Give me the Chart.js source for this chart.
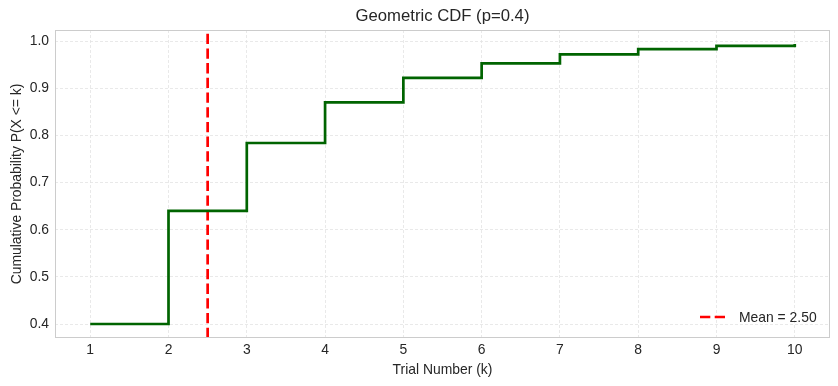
<!DOCTYPE html>
<html>
<head>
<meta charset="utf-8">
<script src="https://cdn.jsdelivr.net/npm/chart.js@4/dist/chart.umd.min.js"></script>
<style>
  html, body { margin: 0; padding: 0; background: #fff; }
  #wrap { width: 838px; height: 386px; }
</style>
</head>
<body>
<div id="wrap"><canvas id="cdfChart" width="838" height="386"></canvas></div>
<script>
// datos
const trials = [1, 2, 3, 4, 5, 6, 7, 8, 9, 10];
const cdfValues = [0.4, 0.64, 0.784, 0.870, 0.922, 0.953, 0.972, 0.983, 0.990, 0.994];
const meanValue = 2.5;
const xTicks = [1, 2, 3, 4, 5, 6, 7, 8, 9, 10];
const yTicks = [0.4, 0.5, 0.6, 0.7, 0.8, 0.9, 1.0];
const xMin = 0.55, xMax = 10.45;
const yMin = 0.3703, yMax = 1.0237;
const chartTitle = 'Geometric CDF (p=0.4)';

const FONT = '"Liberation Sans", Arial, sans-serif';
const TEXT = '#262626';

// titulo centrado sobre el area, marco y leyenda dentro del grafico
const framePlugin = {
    id: 'frame',
    afterDraw(chart) {
        const { ctx, chartArea: a } = chart;
        ctx.save();
        ctx.fillStyle = TEXT;
        ctx.font = '16.7px ' + FONT;
        ctx.textAlign = 'center';
        ctx.textBaseline = 'middle';
        ctx.fillText(chartTitle, (a.left + a.right) / 2, 16);

        ctx.strokeStyle = '#cccccc';
        ctx.lineWidth = 1;
        ctx.strokeRect(a.left + 0.5, a.top + 0.5, a.right - a.left - 1, a.bottom - a.top - 1);

        // leyenda abajo a la derecha
        const ds = chart.data.datasets[1];
        const y = a.bottom - 21;
        const x0 = a.right - 130;
        ctx.strokeStyle = ds.borderColor;
        ctx.lineWidth = ds.borderWidth;
        ctx.setLineDash(ds.borderDash);
        ctx.beginPath();
        ctx.moveTo(x0, y);
        ctx.lineTo(x0 + 25.5, y);
        ctx.stroke();
        ctx.setLineDash([]);
        ctx.textAlign = 'left';
        ctx.font = '13.9px ' + FONT;
        ctx.fillText(ds.label, x0 + 39, y + 1);
        ctx.restore();
    }
};

new Chart(document.getElementById('cdfChart'), {
    type: 'line',
    data: {
        datasets: [
            {
                label: 'CDF',
                data: trials.map((k, i) => ({ x: k, y: cdfValues[i] })),
                borderColor: '#006400',
                borderWidth: 2.7,
                stepped: 'before',
                pointRadius: 0,
                fill: false
            },
            {
                label: 'Mean = ' + meanValue.toFixed(2),
                data: [{ x: meanValue, y: yMin }, { x: meanValue, y: yMax }],
                borderColor: '#ff0000',
                borderWidth: 2.7,
                borderDash: [10.3, 4.4],
                pointRadius: 0,
                fill: false
            }
        ]
    },
    options: {
        responsive: false,
        animation: false,
        layout: { padding: { left: 0, right: 8, top: 30, bottom: 0 } },
        plugins: {
            legend: { display: false },
            tooltip: { enabled: false },
            title: { display: false }
        },
        scales: {
            x: {
                type: 'linear',
                min: xMin,
                max: xMax,
                afterBuildTicks: s => { s.ticks = xTicks.map(v => ({ value: v })); },
                afterFit: s => { s.height = 48; },
                ticks: { color: TEXT, font: { family: FONT, size: 13.9 }, padding: 4 },
                grid: { color: '#e3e3e3', drawTicks: false, lineWidth: 0.8 },
                border: { display: false, dash: [3, 2] },
                title: {
                    display: true,
                    text: 'Trial Number (k)',
                    color: TEXT,
                    font: { family: FONT, size: 13.9 },
                    padding: { top: 0, bottom: 7 }
                }
            },
            y: {
                type: 'linear',
                min: yMin,
                max: yMax,
                afterBuildTicks: s => { s.ticks = yTicks.map(v => ({ value: v })); },
                afterFit: s => { s.width = 55; },
                ticks: {
                    color: TEXT,
                    font: { family: FONT, size: 13.9 },
                    padding: 6,
                    callback: v => v.toFixed(1)
                },
                grid: { color: '#e3e3e3', drawTicks: false, lineWidth: 0.8 },
                border: { display: false, dash: [3, 2] },
                title: {
                    display: true,
                    text: 'Cumulative Probability P(X <= k)',
                    color: TEXT,
                    font: { family: FONT, size: 13.9 },
                    padding: { top: 9, bottom: 0 }
                }
            }
        }
    },
    plugins: [framePlugin]
});
</script>
</body>
</html>
